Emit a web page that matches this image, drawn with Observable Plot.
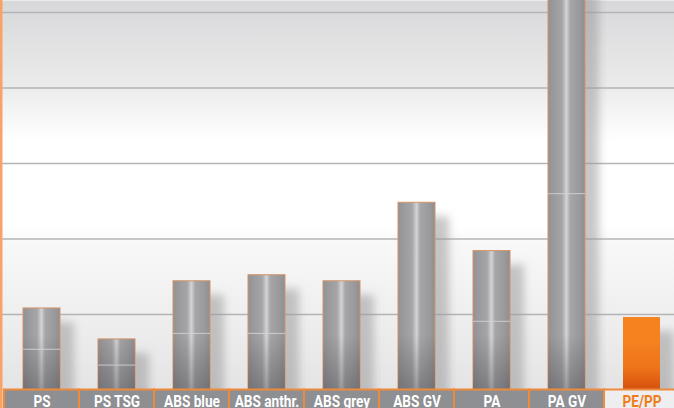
<!DOCTYPE html>
<html>
<head>
<meta charset="utf-8">
<script src="https://cdn.jsdelivr.net/npm/d3@7"></script>
<script src="https://cdn.jsdelivr.net/npm/@observablehq/plot@0.6"></script>
<style>
  html, body { margin: 0; padding: 0; background: #fff; overflow: hidden; }
  #chart svg { display: block; overflow: hidden; }
</style>
</head>
<body>
<div id="chart"></div>
<script>
// Materials compared, left to right
const categories = ["PS", "PS TSG", "ABS blue", "ABS anthr.", "ABS grey", "ABS GV", "PA", "PA GV", "PE/PP"];
// Bar heights (grid step = 10)
const values = [10.8, 6.7, 14.4, 15.2, 14.4, 24.8, 18.4, 60, 9.6];
// Faint seam visible inside some bars
const joins = [5.4, 3.3, 7.5, 7.5, null, null, 9.1, 26.0, null];
// Horizontal grid lines
const gridTicks = [10, 20, 30, 40, 50];
// Highlighted material
const highlight = "PE/PP";

const rows = categories.map((c, i) => ({category: c, value: values[i], join: joins[i]}));
const isHi = d => d.category === highlight;

const W = 674, H = 408;

// gradients and blur filter
const defs = () => {
  const g = d3.create("svg:defs");
  const bg = g.append("linearGradient").attr("id", "bgGrad")
    .attr("gradientUnits", "userSpaceOnUse").attr("x1", 0).attr("x2", 0).attr("y1", 0).attr("y2", 390);
  [[0, "#d8d8da"], [0.22, "#ebebec"], [0.36, "#ffffff"], [0.58, "#ffffff"], [0.62, "#f8f8f8"], [0.8, "#efefef"], [1, "#e4e4e5"]]
    .forEach(([o, c]) => bg.append("stop").attr("offset", o).attr("stop-color", c));

  const steel = g.append("linearGradient").attr("id", "steel").attr("x1", 0).attr("x2", 1).attr("y1", 0).attr("y2", 0);
  [[0, "#929295"], [0.18, "#9c9c9f"], [0.38, "#a5a5a7"], [0.5, "#d3d3d5"], [0.6, "#a6a6a8"], [0.85, "#9a9a9c"], [1, "#8f8f92"]]
    .forEach(([o, c]) => steel.append("stop").attr("offset", o).attr("stop-color", c));

  const shade = g.append("linearGradient").attr("id", "shade")
    .attr("gradientUnits", "userSpaceOnUse").attr("x1", 0).attr("x2", 0).attr("y1", 335).attr("y2", 390);
  shade.append("stop").attr("offset", 0).attr("stop-color", "#3c3c42").attr("stop-opacity", 0);
  shade.append("stop").attr("offset", 1).attr("stop-color", "#3c3c42").attr("stop-opacity", 0.38);

  const org = g.append("linearGradient").attr("id", "orangeGrad")
    .attr("gradientUnits", "userSpaceOnUse").attr("x1", 0).attr("x2", 0).attr("y1", 340).attr("y2", 390);
  org.append("stop").attr("offset", 0).attr("stop-color", "#f5821f");
  org.append("stop").attr("offset", 0.55).attr("stop-color", "#ee7419");
  org.append("stop").attr("offset", 1).attr("stop-color", "#d5500c");

  const f = g.append("filter").attr("id", "soft").attr("x", "-50%").attr("y", "-20%").attr("width", "200%").attr("height", "140%");
  f.append("feGaussianBlur").attr("stdDeviation", 4);
  return g.node();
};

const inset = {insetLeft: 19, insetRight: 19};

const chart = Plot.plot({
  width: W,
  height: H,
  margin: 0,
  style: {background: "transparent", overflow: "hidden"},
  x: {type: "band", domain: categories, range: [0.3, 681.7], padding: 0, axis: null},
  y: {domain: [0, 50], range: [389.5, 12], axis: null},
  marks: [
    defs,
    Plot.frame({fill: "url(#bgGrad)", stroke: null}),
    Plot.ruleY(gridTicks, {stroke: "#b4b4b6", strokeWidth: 1.6}),
    // soft drop shadow behind each bar
    Plot.barY(rows, {x: "category", y: "value", fill: "#9a9a9d", fillOpacity: 0.55, dx: 14, dy: 14, ...inset, ariaDescription: "shadow"}),
    // metal-look bars
    Plot.barY(rows, {filter: d => !isHi(d), x: "category", y: "value", fill: "url(#steel)", stroke: "#d49468", strokeWidth: 1, ...inset}),
    Plot.barY(rows, {filter: d => !isHi(d), x: "category", y: "value", fill: "url(#shade)", ...inset}),
    Plot.tickY(rows, {filter: d => d.join != null, x: "category", y: "join", stroke: "#d6d6d8", strokeOpacity: 0.85, strokeWidth: 1, ...inset}),
    // highlighted bar
    Plot.barY(rows, {filter: isHi, x: "category", y: "value", fill: "url(#orangeGrad)", ...inset}),
    // category label strip
    Plot.barY(rows, {x: "category", y1: 0, y2: -3, fill: d => isHi(d) ? "#eeeef0" : "#8e8f93", stroke: "#ee8a3c", strokeWidth: 2}),
    Plot.text(rows, {
      x: "category", frameAnchor: "bottom", lineAnchor: "bottom", dy: -1.5,
      text: "category",
      fill: d => isHi(d) ? "#f07d1c" : "#ffffff",
      fontSize: 16, fontWeight: "bold",
      fontFamily: "Roboto, 'DejaVu Sans', sans-serif",
      ariaDescription: "labels"
    }),
    // left border
    Plot.frame({anchor: "left", stroke: "#f5a466", strokeWidth: 4})
  ]
});

d3.select(chart).select('g[aria-description="shadow"]').attr("filter", "url(#soft)");
document.getElementById("chart").append(chart);

// condensed look for the strip labels
d3.select(chart).selectAll('g[aria-description="labels"] text').each(function () {
  const w = this.getComputedTextLength();
  this.setAttribute("textLength", (w * 0.85).toFixed(1));
  this.setAttribute("lengthAdjust", "spacingAndGlyphs");
});
</script>
</body>
</html>
